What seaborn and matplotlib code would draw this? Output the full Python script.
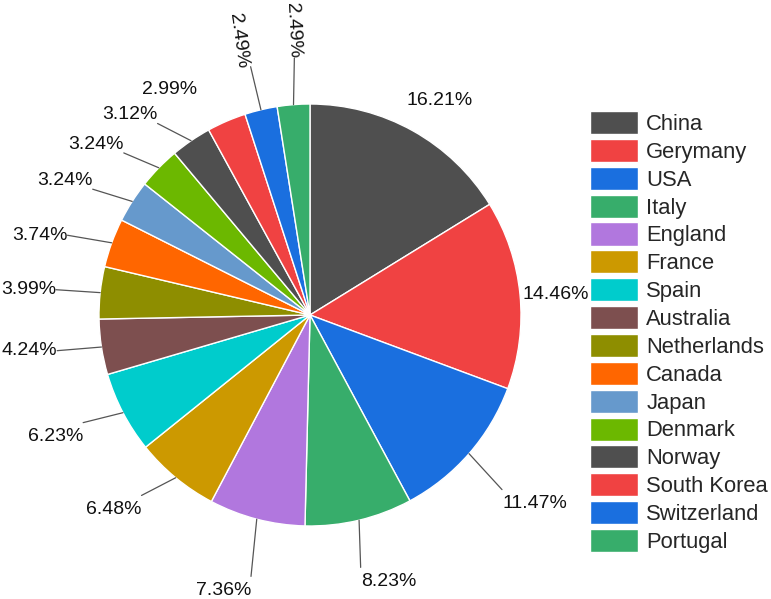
import numpy as np
import matplotlib.pyplot as plt
import seaborn as sns

countries = ["China", "Gerymany", "USA", "Italy", "England", "France", "Spain",
             "Australia", "Netherlands", "Canada", "Japan", "Denmark", "Norway",
             "South Korea", "Switzerland", "Portugal"]
shares = [16.21, 14.46, 11.47, 8.23, 7.36, 6.48, 6.23, 4.24, 3.99, 3.74,
          3.24, 3.24, 3.12, 2.99, 2.49, 2.49]

base_colors = ["#4f4f4f", "#f04242", "#1a6fdf", "#37ad6b", "#b177de", "#cc9900",
               "#00cccc", "#7d4f4f", "#8e8e00", "#ff6600", "#6699cc", "#6cb800"]

sns.set_theme(style="white")
plt.rcParams["font.family"] = ["Liberation Sans", "DejaVu Sans"]
palette = sns.color_palette(base_colors + base_colors[:4])

fig = plt.figure(figsize=(7.71, 5.99), dpi=100)
ax = fig.add_axes([0, 0, 1, 1])
wedges, _ = ax.pie(shares, colors=palette, startangle=90, counterclock=False,
                   wedgeprops=dict(edgecolor="white", linewidth=1))
# pie centre at (310, 315) px, radius 211 px
ax.set_xlim(-310 / 211, 461 / 211)
ax.set_ylim(-284 / 211, 315 / 211)
ax.set_aspect("auto")
ax.axis("off")

# leader line end: radius and angle nudge (deg) per slice
end_r = [0, 0, 1.23, 1.22, 1.27, 1.17, 1.19, 1.21, 1.21, 1.21, 1.19, 1.17, 1.16, 0, 1.21, 1.22]
end_shift = [0, 0, -1.2, -2.1, 1.9, -3.5, -2.2, -0.7, 0.4, 1.8, 2.5, 3.2, 4.2, 0, 0, -1.0]
# labels without leader lines: (radius, angle nudge, ha)
free = {0: (1.19, -2, "center"), 1: (1.01, 0, "left"), 13: (1.26, 8.6, "center")}
# vertical labels at the top: (rotation, va)
rotated = {14: (-82, "top"), 15: (-87, "center")}
lab = dict(fontsize=14, color="#111111")

for i, w in enumerate(wedges):
    mid = (w.theta1 + w.theta2) / 2
    txt = f"{shares[i]:.2f}%"
    if i in free:
        r, sh, ha = free[i]
        a = np.deg2rad(mid + sh)
        ax.text(r * np.cos(a), r * np.sin(a), txt, ha=ha, va="center", **lab)
        continue
    a0 = np.deg2rad(mid)
    a1 = np.deg2rad(mid + end_shift[i])
    x1, y1 = end_r[i] * np.cos(a1), end_r[i] * np.sin(a1)
    ax.plot([np.cos(a0), x1], [np.sin(a0), y1], color="#555555", lw=0.9)
    if i in rotated:
        rot, va = rotated[i]
        ax.text(x1, y1, txt, rotation=rot, rotation_mode="anchor",
                ha="right", va=va, **lab)
    else:
        c, s = np.cos(a1), np.sin(a1)
        ha = "left" if c > 0 else "right"
        va = "bottom" if s > 0.4 else ("top" if s < -0.3 else "center")
        dy = -4 if va == "top" else 0
        ax.annotate(txt, (x1, y1), xytext=(0, dy), textcoords="offset points",
                    ha=ha, va=va, **lab)

ax.legend(wedges, countries, loc="upper left", bbox_to_anchor=(590 / 771, 1 - 111 / 599),
          bbox_transform=fig.transFigure, frameon=False, fontsize=15.8,
          handlelength=2.19, handleheight=1.24, handletextpad=0.37,
          labelspacing=0.18, borderpad=0, borderaxespad=0)

fig.savefig("out.png", dpi=100)
